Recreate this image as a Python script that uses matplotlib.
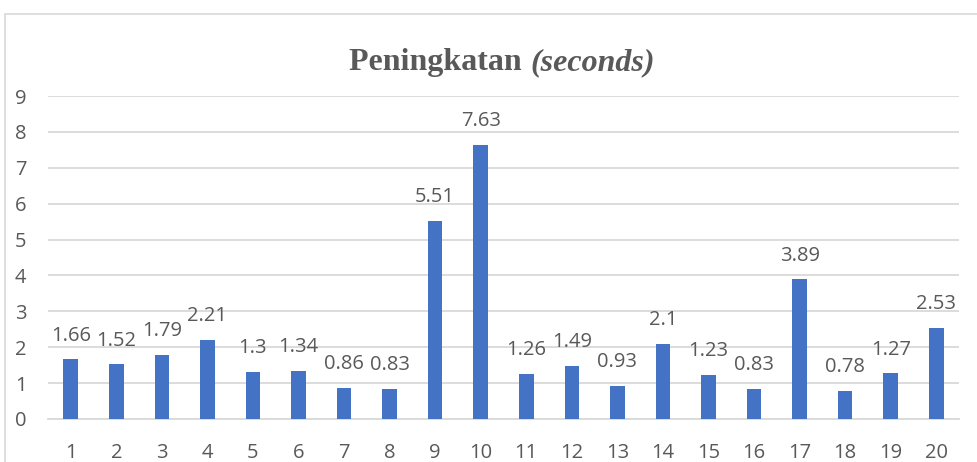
import matplotlib
matplotlib.use("Agg")
import matplotlib.pyplot as plt
from matplotlib.patches import Rectangle

categories = [str(i) for i in range(1, 21)]
values = [1.66, 1.52, 1.79, 2.21, 1.3, 1.34, 0.86, 0.83, 5.51, 7.63,
          1.26, 1.49, 0.93, 2.1, 1.23, 0.83, 3.89, 0.78, 1.27, 2.53]
labels = ["1.66", "1.52", "1.79", "2.21", "1.3", "1.34", "0.86", "0.83", "5.51", "7.63",
          "1.26", "1.49", "0.93", "2.1", "1.23", "0.83", "3.89", "0.78", "1.27", "2.53"]
yticks = list(range(0, 10))

W, H = 978, 462
fig = plt.figure(figsize=(W / 100, H / 100), dpi=100)
fig.patch.set_facecolor("white")

# chart border (cropped at right/bottom)
fig.add_artist(Rectangle((5 / W, -0.1), 1.2, (H - 14) / H + 0.1, transform=fig.transFigure,
                         fill=False, edgecolor="#D9D9D9", linewidth=1.2))

ax = fig.add_axes([48 / W, 43 / H, (959 - 48) / W, (419 - 96) / H])
x = list(range(len(categories)))
ax.bar(x, values, width=0.32, color="#4472C4", zorder=3)
ax.set_xlim(-0.5, len(categories) - 0.5)
ax.set_ylim(0, 9)
ax.set_yticks(yticks)
ax.set_xticks(x)
ax.set_xticklabels(categories)

font = "Open Sans"
txtc = "#595959"
fs = 14.5
for lab in ax.get_yticklabels() + ax.get_xticklabels():
    lab.set_fontfamily(font)
    lab.set_fontsize(fs)
    lab.set_color(txtc)
ax.tick_params(axis="y", length=0, pad=15.5)
ax.tick_params(axis="x", length=0, pad=17)
ax.grid(axis="y", color="#D9D9D9", linewidth=1.3, zorder=0)
for s in ["top", "right", "left"]:
    ax.spines[s].set_visible(False)
ax.spines["bottom"].set_color("#D9D9D9")
ax.spines["bottom"].set_linewidth(1.3)

for xi, v, lab in zip(x, values, labels):
    ax.annotate(lab, (xi, v), xytext=(0, 10), textcoords="offset points",
                ha="center", va="bottom", fontsize=fs, color=txtc, fontfamily=font)

# title pieces
t1 = fig.text(0, 0, "Peningkatan ", fontsize=23, fontweight="bold",
              family="Liberation Serif", color=txtc)
t2 = fig.text(0, 0, "(seconds)", fontsize=23, fontweight="bold", style="italic",
              family="Liberation Serif", color=txtc)
fig.canvas.draw()
r = fig.canvas.get_renderer()
w1 = t1.get_window_extent(r).width
w2 = t2.get_window_extent(r).width
cx = 502
start = cx - (w1 + w2) / 2
ty = H - 70
t1.set_position((start / W, ty / H))
t2.set_position(((start + w1) / W, ty / H))

fig.savefig("out.png", dpi=100)
